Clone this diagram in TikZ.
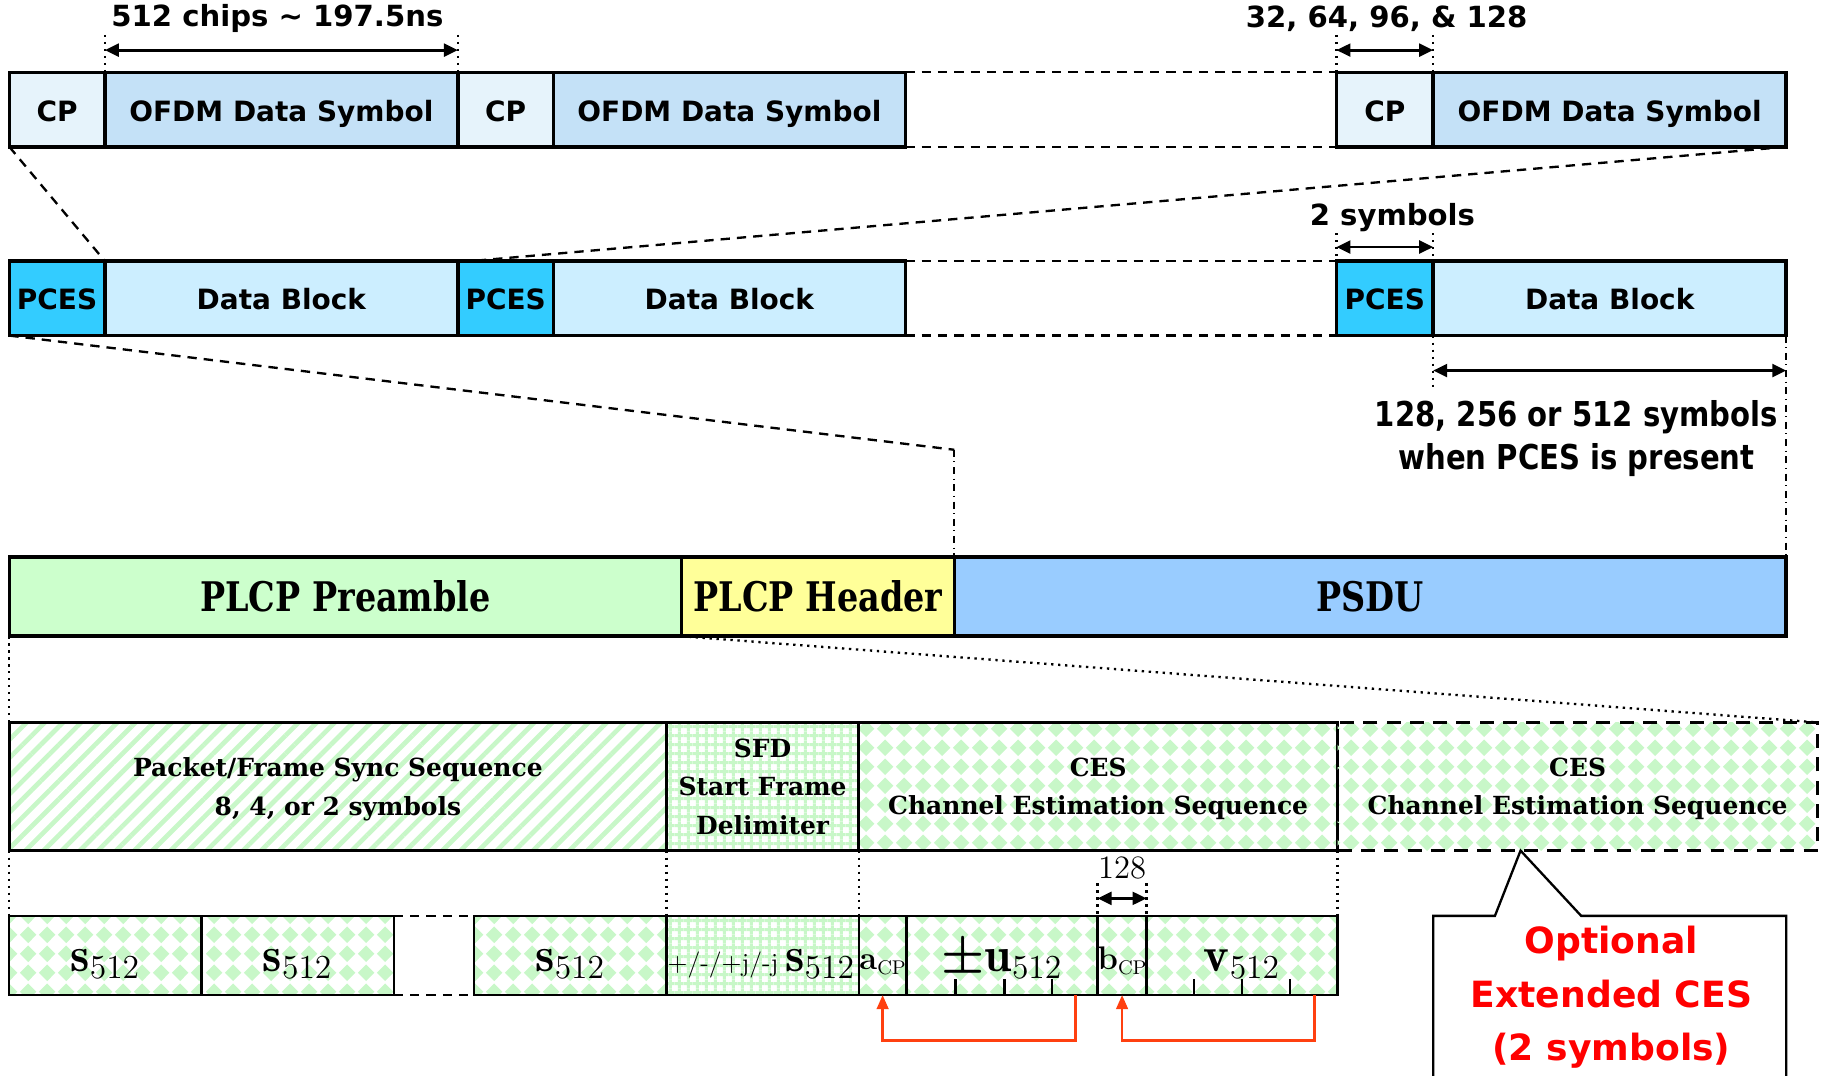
\documentclass[tikz,border=0pt]{standalone}
\usepackage{amsmath,bm}
\usepackage{fontspec}
\usetikzlibrary{arrows.meta,patterns,patterns.meta}
\newfontfamily\vsans{DejaVu Sans}
\newfontfamily\csans[FakeStretch=0.85]{DejaVu Sans}
\newfontfamily\cserif[FakeStretch=0.82]{DejaVu Serif}
\newfontfamily\bserif{DejaVu Serif}
\definecolor{cpc}{HTML}{E6F3FB}
\definecolor{ofc}{HTML}{C4E1F7}
\definecolor{pcesc}{HTML}{33CCFF}
\definecolor{dbc}{HTML}{CCEEFF}
\definecolor{prec}{HTML}{CCFFCC}
\definecolor{hdrc}{HTML}{FFFF99}
\definecolor{psduc}{HTML}{99CCFF}
\definecolor{patg}{HTML}{C8F7C8}
\definecolor{arrred}{HTML}{FF4010}
\pgfdeclarepatternformonly{diamondcheck}{\pgfpointorigin}{\pgfpoint{8pt}{8pt}}{\pgfpoint{8pt}{8pt}}{%
  \pgfpathmoveto{\pgfpoint{4pt}{0.4pt}}%
  \pgfpathlineto{\pgfpoint{7.6pt}{4pt}}%
  \pgfpathlineto{\pgfpoint{4pt}{7.6pt}}%
  \pgfpathlineto{\pgfpoint{0.4pt}{4pt}}%
  \pgfpathclose
  \pgfusepath{fill}}
\newcommand\mybox[7]{\node[#6,anchor=north west,minimum width={(#4-#2)*0.5pt},minimum height={(#5-#3)*0.5pt}] (#1) at (#2,#3) {#7};}
\tikzset{
  cell/.style={draw, line width=1.5pt, inner sep=0pt, outer sep=0pt},
  thin cell/.style={draw, line width=1pt, inner sep=0pt, outer sep=0pt},
  topfont/.style={font=\vsans\bfseries\fontsize{12}{14}\selectfont, text height=10.6pt, text depth=0pt},
  notefont/.style={font=\vsans\bfseries\fontsize{12.5}{15}\selectfont},
  mathcell/.style={font=\fontsize{21}{22}\selectfont, text height=13.6pt, text depth=0pt},
  diam/.style={pattern=diamondcheck, pattern color=patg},
  stripes/.style={pattern={Lines[angle=45,distance=5.5pt,line width=2pt]}, pattern color=patg},
  gridpat/.style={pattern={Hatch[angle=0,distance=4pt,line width=1.4pt]}, pattern color=patg},
  zoomline/.style={dashed, line width=1pt, dash pattern=on 4pt off 3pt},
  tick/.style={dotted, line width=1pt},
  dim/.style={{Triangle[length=6pt,width=5.5pt]}-{Triangle[length=6pt,width=5.5pt]}, line width=1.2pt},
  redarr/.style={-{Triangle[length=6pt,width=5pt]}, line width=1pt, draw=arrred},
  serifhead/.style={font=\bserif\bfseries\fontsize{10.7}{16.5}\selectfont, align=center, text depth=-2.2pt},
}
\begin{document}
\begin{tikzpicture}[x=0.5pt,y=-0.5pt]
\useasboundingbox (0,0) rectangle (1568,923);
% ---------- row 1: CP / OFDM data symbols
\mybox{cpA}{8}{62}{90}{126}{cell,fill=cpc,topfont}{CP}
\mybox{ofA}{90}{62}{393}{126}{cell,fill=ofc,topfont}{OFDM Data Symbol}
\mybox{cpB}{393}{62}{475}{126}{cell,fill=cpc,topfont}{CP}
\mybox{ofB}{475}{62}{777}{126}{cell,fill=ofc,topfont}{OFDM Data Symbol}
\mybox{cpC}{1147}{62}{1230}{126}{cell,fill=cpc,topfont}{CP}
\mybox{ofC}{1230}{62}{1533}{126}{cell,fill=ofc,topfont}{OFDM Data Symbol}
\draw[zoomline] (ofB.north east) -- (cpC.north west);
\draw[zoomline] (ofB.south east) -- (cpC.south west);
% annotations row 1
\node[notefont] (chips) at (238,16) {512 chips \textasciitilde{} 197.5ns};
\coordinate (t1a) at (90,30); \coordinate (t1b) at (393,30);
\draw[tick] (t1a) -- (ofA.north west);
\draw[tick] (t1b) -- (ofA.north east);
\draw[dim] (90,43) coordinate (d1a) -- (393,43) coordinate (d1b);
\node[notefont] (cplen) at (1190,16) {32, 64, 96, \& 128};
\coordinate (t2a) at (1147,30); \coordinate (t2b) at (1230,30);
\draw[tick] (t2a) -- (cpC.north west);
\draw[tick] (t2b) -- (cpC.north east);
\draw[dim] (1147,43) coordinate (d2a) -- (1230,43) coordinate (d2b);
% ---------- row 2: PCES / Data Block
\mybox{pcA}{8}{224}{90}{288}{cell,fill=pcesc,topfont,text height=10pt}{PCES}
\mybox{dbA}{90}{224}{393}{288}{cell,fill=dbc,topfont,text height=10pt}{Data Block}
\mybox{pcB}{393}{224}{475}{288}{cell,fill=pcesc,topfont,text height=10pt}{PCES}
\mybox{dbB}{475}{224}{777}{288}{cell,fill=dbc,topfont,text height=10pt}{Data Block}
\mybox{pcC}{1147}{224}{1230}{288}{cell,fill=pcesc,topfont,text height=10pt}{PCES}
\mybox{dbC}{1230}{224}{1533}{288}{cell,fill=dbc,topfont,text height=10pt}{Data Block}
\draw[zoomline] (dbB.north east) -- (pcC.north west);
\draw[zoomline] (dbB.south east) -- (pcC.south west);
% zoom lines row1 -> row2
\draw[zoomline] (cpA.south west) -- (dbA.north west);
\draw[zoomline] (ofC.south east) -- ([xshift=6pt]pcB.north west);
% annotations row 2
\node[notefont] (twosym) at (1195,187) {2 symbols};
\coordinate (t3a) at (1147,200); \coordinate (t3b) at (1230,200);
\draw[tick] (t3a) -- (pcC.north west);
\draw[tick] (t3b) -- (pcC.north east);
\draw[dim] (1147,212) coordinate (d3a) -- (1230,212) coordinate (d3b);
\coordinate (t4a) at (1230,332);
\draw[tick] (dbC.south west) -- (t4a);
\draw[dim] (1230,318) coordinate (d4a) -- (1533,318) coordinate (d4b);
\node[font=\csans\bfseries\fontsize{14.7}{18.5}\selectfont, align=center] (blk) at (1353,376) {128, 256 or 512 symbols\\when PCES is present};
% ---------- row 3: PLCP
\mybox{pre}{8}{478}{585}{546}{cell,fill=prec,font=\cserif\bfseries\fontsize{17.5}{20}\selectfont}{PLCP Preamble}
\mybox{hdr}{585}{478}{819}{546}{cell,fill=hdrc,font=\cserif\bfseries\fontsize{17.5}{20}\selectfont}{PLCP Header}
\mybox{psdu}{819}{478}{1533}{546}{cell,fill=psduc,font=\cserif\bfseries\fontsize{17.5}{20}\selectfont}{PSDU}
% zoom lines row2 -> row3
\coordinate (bend) at (819,386);
\draw[zoomline] (pcA.south west) -- (bend);
\draw[dash dot, line width=1pt] (bend) -- (psdu.north west);
\draw[dash dot, line width=1pt] (dbC.south east) -- (psdu.north east);
% ---------- row 4: preamble detail
\mybox{sync}{8}{620}{572}{730}{cell,stripes,serifhead}{Packet/Frame Sync Sequence\\8, 4, or 2 symbols}
\mybox{sfd}{572}{620}{737}{730}{cell,gridpat,serifhead}{SFD\\Start Frame\\Delimiter}
\mybox{ces}{737}{620}{1148}{730}{cell,diam,serifhead}{CES\\Channel Estimation Sequence}
\mybox{ext}{1148}{620}{1560}{730}{cell,diam,serifhead,dash pattern=on 6pt off 4pt}{CES\\Channel Estimation Sequence}
\draw[tick] (pre.south west) -- (sync.north west);
\draw[dotted, line width=1pt] (pre.south east) -- (ext.north east);
% ---------- row 5: symbol detail
\mybox{sA}{8}{786}{173}{854}{thin cell,diam,mathcell}{$\mathbf{s}_{512}$}
\mybox{sB}{173}{786}{338}{854}{thin cell,diam,mathcell}{$\mathbf{s}_{512}$}
\mybox{sC}{407}{786}{572}{854}{thin cell,diam,mathcell}{$\mathbf{s}_{512}$}
\mybox{sD}{572}{786}{737}{854}{thin cell,gridpat,mathcell}{\hspace*{-1pt}{\fontsize{11.2}{12}\selectfont +/-/+j/-j}\hspace{3pt}$\mathbf{s}_{512}$}
\mybox{acp}{737}{786}{778}{854}{thin cell,diam,text height=12pt,text depth=0pt}{{\fontsize{14}{14}\selectfont\textbf{a}}\raisebox{-2pt}{\fontsize{8.5}{9}\selectfont CP}}
\mybox{uu}{778}{786}{942}{854}{thin cell,diam,mathcell}{$\bm{\pm}\mathbf{u}_{512}$}
\mybox{bcp}{942}{786}{984}{854}{thin cell,diam,text height=12pt,text depth=0pt}{{\fontsize{14}{14}\selectfont\textbf{b}}\raisebox{-2pt}{\fontsize{8.5}{9}\selectfont CP}}
\mybox{vv}{984}{786}{1148}{854}{thin cell,diam,mathcell}{$\mathbf{v}_{512}$}
\draw[zoomline] (sB.north east) -- (sC.north west);
\draw[zoomline] (sB.south east) -- (sC.south west);
\foreach \x in {820,862,903,1025,1066,1107} \draw[line width=1pt] (\x,854) -- (\x,840);
% dotted links row4 -> row5
\draw[tick] (sync.south west) -- (sA.north west);
\draw[tick] (sync.south east) -- (sC.north east);
\draw[tick] (sfd.south east) -- (acp.north west);
\draw[tick] (ces.south east) -- (vv.north east);
% 128 annotation
\node[font=\fontsize{14}{16}\selectfont] (l128) at (963,745) {128};
\coordinate (t5a) at (942,758); \coordinate (t5b) at (984,758);
\draw[tick] (t5a) -- (bcp.north west);
\draw[tick] (t5b) -- (bcp.north east);
\draw[dim] (942,771) coordinate (d5a) -- (984,771) coordinate (d5b);
% red copy arrows
\draw[redarr] ([xshift=-9.5pt]uu.south east) -- ++(0,39) -| (acp.south);
\draw[redarr] ([xshift=-10pt]vv.south east) -- ++(0,39) -| (bcp.south);
% ---------- callout
\coordinate (tip) at ([xshift=78.5pt]ext.south west);
\draw[line width=1pt] (1230,930) -- (1230,786) -- (1283,786) -- (tip) -- (1357,786) -- (1533,786) -- (1533,930);
\node[font=\vsans\bfseries\fontsize{15.5}{23}\selectfont, text=red, align=center] (opt) at (1383,856) {Optional\\Extended CES\\(2 symbols)};
\end{tikzpicture}
\end{document}
